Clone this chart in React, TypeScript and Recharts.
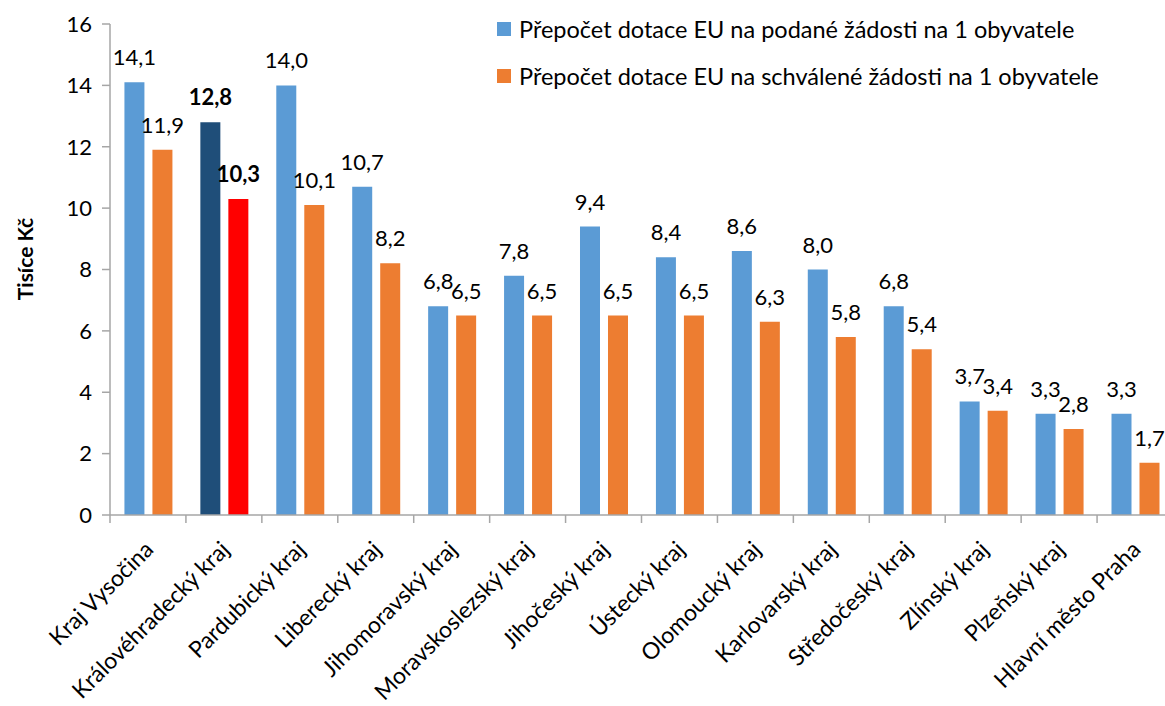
import React from "react";
import { BarChart, Bar, XAxis, YAxis, Cell } from "recharts";

const categories = [
  "Kraj Vysočina",
  "Královéhradecký kraj",
  "Pardubický kraj",
  "Liberecký kraj",
  "Jihomoravský kraj",
  "Moravskoslezský kraj",
  "Jihočeský kraj",
  "Ústecký kraj",
  "Olomoucký kraj",
  "Karlovarský kraj",
  "Středočeský kraj",
  "Zlínský kraj",
  "Plzeňský kraj",
  "Hlavní město Praha",
];
const podane = [14.1, 12.8, 14.0, 10.7, 6.8, 7.8, 9.4, 8.4, 8.6, 8.0, 6.8, 3.7, 3.3, 3.3];
const schvalene = [11.9, 10.3, 10.1, 8.2, 6.5, 6.5, 6.5, 6.5, 6.3, 5.8, 5.4, 3.4, 2.8, 1.7];
const seriesNames = [
  "Přepočet dotace EU na podané žádosti na 1 obyvatele",
  "Přepočet dotace EU na schválené žádosti na 1 obyvatele",
];
const yTicks = [0, 2, 4, 6, 8, 10, 12, 14, 16];
const highlighted = "Královéhradecký kraj";

const data = categories.map((name, i) => ({ name, podane: podane[i], schvalene: schvalene[i] }));

const BLUE = "#5B9BD5";
const ORANGE = "#ED7D31";
const NAVY = "#1F4E79";
const RED = "#FF0000";
const AXIS = "#A6A6A6";
const FONT = "Lato, 'Noto Sans', sans-serif";

const W = 1190;
const H = 706;
const margin = { top: 24, right: 17, left: 40, bottom: 0 };
const yWidth = 70;
const catW = (W - margin.left - margin.right - yWidth) / categories.length;

const fmt = (v: number) => v.toFixed(1).replace(".", ",");

function XTick({ x, y, payload }: any) {
  const lx = x + 7;
  const ly = y + 36;
  return (
    <g>
      <line x1={x - catW / 2} y1={y} x2={x - catW / 2} y2={y + 8} stroke={AXIS} strokeWidth={1.5} />
      <text
        x={lx}
        y={ly}
        transform={`rotate(-45, ${lx}, ${ly})`}
        textAnchor="end"
        fontSize={23}
        fontFamily={FONT}
        fill="#000"
      >
        {payload.value}
      </text>
    </g>
  );
}

function makeLabel(key: "podane" | "schvalene") {
  return (props: any) => {
    const { x, y, width, index } = props;
    const bold = categories[index] === highlighted;
    const v = key === "podane" ? podane[index] : schvalene[index];
    return (
      <text
        x={x + width / 2}
        y={y - 17}
        textAnchor="middle"
        fontSize={22}
        fontWeight={bold ? 700 : 400}
        fontFamily={FONT}
        fill="#000"
      >
        {fmt(v)}
      </text>
    );
  };
}

function YTitle() {
  const cx = 24;
  const cy = 259;
  return (
    <text
      x={cx}
      y={cy}
      transform={`rotate(-90, ${cx}, ${cy})`}
      textAnchor="middle"
      dominantBaseline="central"
      fontSize={21}
      fontWeight={700}
      fontFamily={FONT}
      fill="#000"
    >
      Tisíce Kč
    </text>
  );
}

export default function App() {
  return (
    <div style={{ position: "absolute", left: 0, top: 0, width: 1165, height: 706, overflow: "hidden", background: "#fff" }}>
      <BarChart width={W} height={H} data={data} margin={margin} barCategoryGap="19%" barGap={8}>
        <XAxis
          dataKey="name"
          interval={0}
          height={191}
          tickSize={0}
          tickMargin={0}
          axisLine={{ stroke: AXIS, strokeWidth: 1.5 }}
          tick={<XTick />}
        />
        <YAxis
          domain={[0, 16]}
          ticks={yTicks}
          width={yWidth}
          tickSize={8}
          tickMargin={10}
          axisLine={{ stroke: AXIS, strokeWidth: 1.5 }}
          tickLine={{ stroke: AXIS, strokeWidth: 1.5 }}
          tick={{ fontSize: 22, fill: "#000", fontFamily: FONT }}
          label={{ content: () => <YTitle /> }}
        />
        <Bar dataKey="podane" fill={BLUE} isAnimationActive={false} label={makeLabel("podane")}>
          {data.map((d) => (
            <Cell key={d.name} fill={d.name === highlighted ? NAVY : BLUE} />
          ))}
        </Bar>
        <Bar dataKey="schvalene" fill={ORANGE} isAnimationActive={false} label={makeLabel("schvalene")}>
          {data.map((d) => (
            <Cell key={d.name} fill={d.name === highlighted ? RED : ORANGE} />
          ))}
        </Bar>
      </BarChart>
      <div style={{ position: "absolute", left: 497, top: 12, fontFamily: FONT, fontSize: 23.5, color: "#000" }}>
        {seriesNames.map((n, i) => (
          <div key={n} style={{ display: "flex", alignItems: "center", height: 34, marginBottom: i === 0 ? 13 : 0, whiteSpace: "nowrap" }}>
            <span style={{ width: 14, height: 14, background: i === 0 ? BLUE : ORANGE, marginRight: 8, display: "inline-block" }} />
            <span>{n}</span>
          </div>
        ))}
      </div>
    </div>
  );
}
